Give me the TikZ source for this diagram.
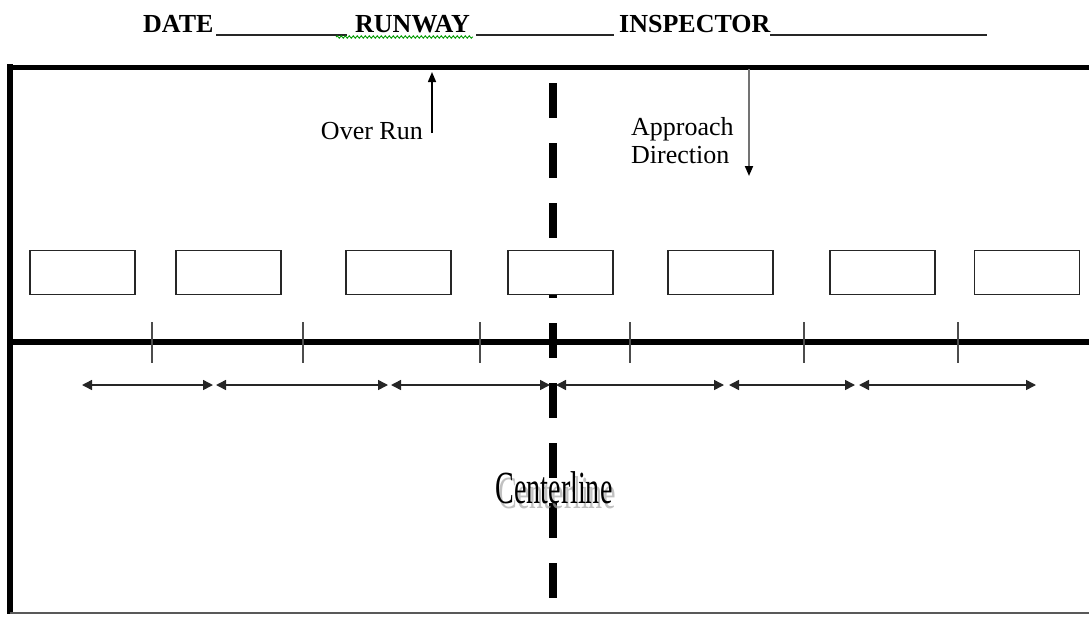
\documentclass[tikz,border=0pt]{standalone}
\usepackage{fontspec}
\setmainfont{Liberation Serif}
\usetikzlibrary{arrows.meta,decorations.pathmorphing}
\begin{document}
\begin{tikzpicture}[x=1pt,y=-1pt,
  hdr/.style={font=\fontsize{26}{28}\selectfont\bfseries, inner sep=0pt, anchor=base west},
  lbl/.style={font=\fontsize{26}{28}\selectfont, inner sep=0pt},
  uline/.style={line width=1.6pt, draw=black!85},
  border/.style={line width=#1, draw=black, line cap=butt},
  lightbox/.style={draw=black!85, line width=1.9pt, fill=white, minimum width=105pt, minimum height=44pt, inner sep=0pt},
  tick/.style={draw=black!70, line width=1.8pt},
  span/.style={draw=black!85, line width=1.5pt, {Triangle[length=10pt,width=10pt]}-{Triangle[length=10pt,width=10pt]}},
  cline/.style={draw=black, line width=8pt, dash pattern=on 35pt off 25pt, line cap=butt}
]
\useasboundingbox (0,0) rectangle (1089,616);

% header
\node[hdr] (date) at (143,32) {DATE};
\node[hdr] (rwy) at (355,32) {RUNWAY};
\node[hdr] (insp) at (619,32) {INSPECTOR};
\coordinate (u1s) at (216,35); \coordinate (u1e) at (347,35);
\coordinate (u2s) at (476,35); \coordinate (u2e) at (614,35);
\coordinate (u3s) at (770,35); \coordinate (u3e) at (987,35);
\draw[uline] (u1s) -- (u1e);
\draw[uline] (u2s) -- (u2e);
\draw[uline] (u3s) -- (u3e);
\coordinate (sq1) at (336,37); \coordinate (sq2) at (473,37);
\draw[green!60!black, line width=0.9pt, decorate, decoration={snake, segment length=4pt, amplitude=1.2pt}] (sq1) -- (sq2);

% centerline dashes
\coordinate (c1) at (553,83); \coordinate (c2) at (553,600);
\draw[cline] (c1) -- (c2);

% frame
\coordinate (tl) at (7,67); \coordinate (tr) at (1089,67);
\coordinate (lt) at (10,64); \coordinate (lb) at (10,614);
\coordinate (bl) at (10,613); \coordinate (br) at (1089,613);
\coordinate (ml) at (10,342); \coordinate (mr) at (1089,342);
\draw[border=5pt] (tl) -- (tr);
\draw[border=6pt] (lt) -- (lb);
\draw[line width=2pt, draw=black!65] (bl) -- (br);
\draw[border=6pt] (ml) -- (mr);

% lights boxes
\foreach \n/\x in {1/82.5, 2/228.5, 3/398.5, 4/560.5, 5/720.5, 6/882.5, 7/1027}
  \node[lightbox] (b\n) at (\x,272.5) {};

% ticks
\foreach \n/\x in {1/152, 2/303, 3/480, 4/630, 5/804, 6/958} {
  \coordinate (t\n a) at (\x,322);
  \coordinate (t\n b) at (\x,363);
  \draw[tick] (t\n a) -- (t\n b);
}

% spacing arrows
\foreach \n/\a/\b in {1/82/213, 2/216/388, 3/391/550, 4/556/724, 5/729/855, 6/859/1036} {
  \coordinate (s\n a) at (\a,385);
  \coordinate (s\n b) at (\b,385);
  \draw[span] (s\n a) -- (s\n b);
}

% over run
\node[lbl, anchor=base east] (over) at (423,139) {Over Run};
\coordinate (oa) at (432,133); \coordinate (ob) at (432,72);
\draw[line width=1.5pt, -{Triangle[length=10pt,width=8pt]}] (oa) -- (ob);

% approach direction
\node[lbl, anchor=north west, align=left] (appr) at (631,117) {Approach\\Direction};
\coordinate (aa) at (749,69); \coordinate (ab) at (749,176);
\draw[line width=1.8pt, draw=black!55, -{Triangle[length=10pt,width=8pt,color=black]}] (aa) -- (ab);

% centerline label with shadow
\node[font=\fontsize{46}{46}\selectfont, inner sep=0pt, anchor=base, text=black!35, opacity=0.7] (cshadow) at (557,508) {\scalebox{0.61}[1]{Centerline}};
\node[font=\fontsize{46}{46}\selectfont, inner sep=0pt, anchor=base] (ctext) at (554,503) {\scalebox{0.61}[1]{Centerline}};
\end{tikzpicture}
\end{document}
